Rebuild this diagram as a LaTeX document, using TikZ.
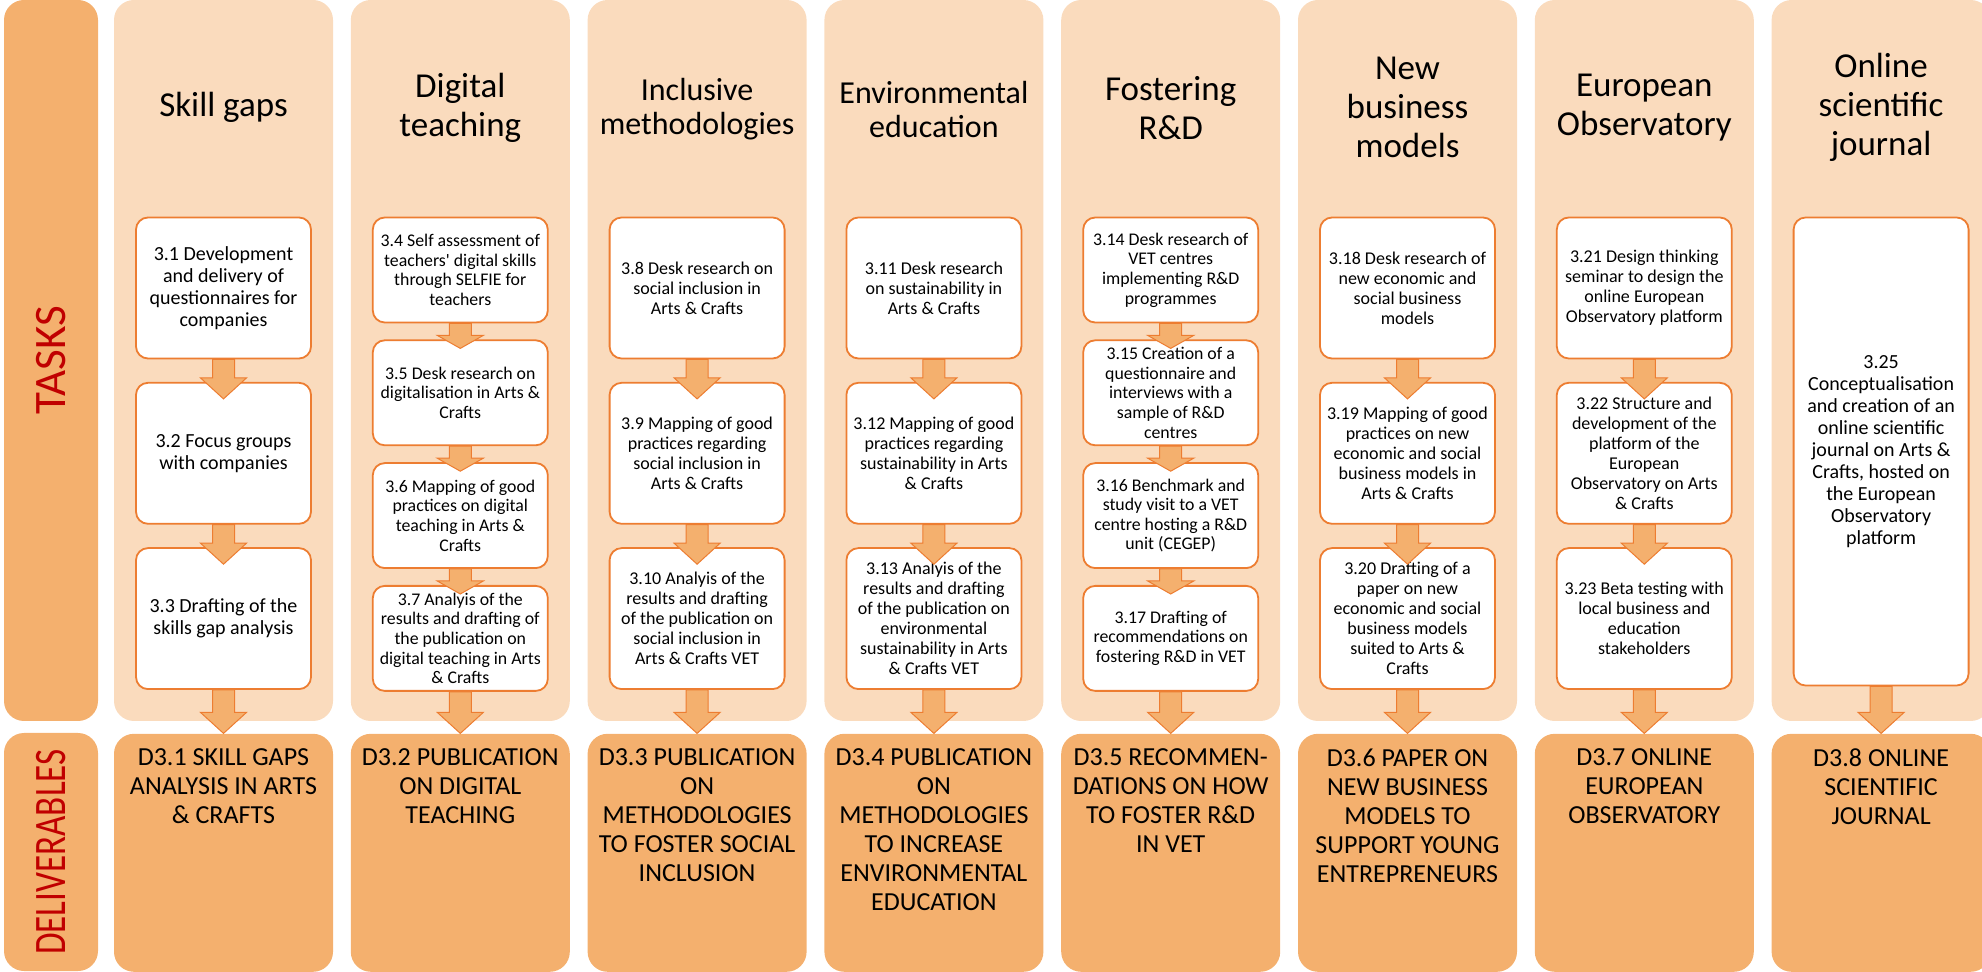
\documentclass[tikz,border=0pt]{standalone}
\usepackage{fontspec}
\setmainfont{Carlito}
\usepackage{graphicx}
\usepackage{tikz}
\usetikzlibrary{positioning,calc}

\definecolor{lanefill}{HTML}{FADBBD}
\definecolor{delivfill}{HTML}{F4B06E}
\definecolor{boxline}{HTML}{ED7D31}
\definecolor{barred}{HTML}{C00000}

% block arrow from one box to the next: from, to, overlap (px), head length
\newcommand{\flowarrow}[4]{%
  \draw[blockflow] let \p1=(#1.south), \p2=($(#2.north)+(0,#3)$) in
    (\x1-5.5pt,\y1) -- (\x1-5.5pt,\y2+#4) -- (\x1-11.5pt,\y2+#4) -- (\x1,\y2)
    -- (\x1+11.5pt,\y2+#4) -- (\x1+5.5pt,\y2+#4) -- (\x1+5.5pt,\y1) -- cycle;}
\newcommand{\delivtext}[1]{\parbox[t][104pt][t]{108pt}{\centering #1}}

\begin{document}
\begin{tikzpicture}[
    x=0.5pt, y=-0.5pt,
    lane/.style={rectangle, rounded corners=10pt, fill=lanefill, minimum width=109.5pt, minimum height=360.5pt, inner sep=0pt},
    sidebar/.style={rectangle, rounded corners=10pt, fill=delivfill, minimum height=47pt, inner sep=0pt, rotate=90, text=barred, font=\fontsize{22.5}{22.5}\selectfont},
    lanehead/.style={align=center, font=\fontsize{17.5}{19.5}\selectfont},
    task/.style={rectangle, draw=boxline, line width=0.9pt, fill=white, rounded corners=6pt, minimum width=87.5pt, align=center, inner sep=1pt, font=\fontsize{9}{10}\selectfont},
    taskbig/.style={task, minimum height=70.5pt},
    tasksmall/.style={task, minimum height=52.5pt},
    bigtext/.style={font=\fontsize{10}{11}\selectfont},
    smalltext/.style={font=\fontsize{8.9}{9.8}\selectfont},
    deliv/.style={rectangle, rounded corners=10pt, fill=delivfill, minimum width=109.5pt, minimum height=119pt, inner sep=0pt, font=\fontsize{13}{14.5}\selectfont},
    blockflow/.style={draw=boxline, fill=delivfill, line width=0.5pt}
]
    \useasboundingbox (0,0) rectangle (1982,972);

    % side labels
    \node[sidebar, minimum width=360.5pt] (taskbar) at (51,360.5) {TASKS};
    \node[sidebar, minimum width=119pt] (delivbar) at (51,852) {\scalebox{0.78}[1]{DELIVERABLES}};

    % lanes
    \node[lane] (lane1) at (223.5,360.5) {};
    \node[lane, right=8.5pt of lane1] (lane2) {};
    \node[lane, right=8.5pt of lane2] (lane3) {};
    \node[lane, right=8.5pt of lane3] (lane4) {};
    \node[lane, right=8.5pt of lane4] (lane5) {};
    \node[lane, right=8.5pt of lane5] (lane6) {};
    \node[lane, right=8.5pt of lane6] (lane7) {};
    \node[lane, right=8.5pt of lane7] (lane8) {};

    \node[lanehead] (head1) at ($(lane1.north)+(0,108)$) {Skill gaps};
    \node[lanehead] (head2) at ($(lane2.north)+(0,108)$) {Digital\\teaching};
    \node[lanehead, font=\fontsize{16}{17}\selectfont] (head3) at ($(lane3.north)+(0,110)$) {Inclusive\\methodologies};
    \node[lanehead, font=\fontsize{16}{17}\selectfont] (head4) at ($(lane4.north)+(0,110)$) {Environmental\\education};
    \node[lanehead] (head5) at ($(lane5.north)+(0,108)$) {Fostering\\R\&D};
    \node[lanehead] (head6) at ($(lane6.north)+(0,108)$) {New\\business\\models};
    \node[lanehead] (head7) at ($(lane7.north)+(0,108)$) {European\\Observatory};
    \node[lanehead] (head8) at ($(lane8.north)+(0,108)$) {Online\\scientific\\journal};

    % Skill gaps
    \node[taskbig, bigtext, below=108.5pt of lane1.north] (t31) {3.1 Development\\and delivery of\\questionnaires for\\companies};
    \node[taskbig, bigtext, below=11.25pt of t31] (t32) {3.2 Focus groups\\with companies};
    \node[taskbig, bigtext, below=11.25pt of t32] (t33) {3.3 Drafting of the\\skills gap analysis};
    \node[deliv, below=6pt of lane1] (d31) {\delivtext{D3.1 SKILL GAPS\\ANALYSIS IN ARTS\\\& CRAFTS}};

    % Digital teaching
    \node[tasksmall, smalltext, below=108.5pt of lane2.north] (t34) {3.4 Self assessment of\\teachers\textquotesingle\ digital skills\\through SELFIE for\\teachers};
    \node[tasksmall, smalltext, below=8pt of t34] (t35) {3.5 Desk research on\\digitalisation in Arts \&\\Crafts};
    \node[tasksmall, smalltext, below=8pt of t35] (t36) {3.6 Mapping of good\\practices on digital\\teaching in Arts \&\\Crafts};
    \node[tasksmall, smalltext, below=8pt of t36] (t37) {3.7 Analyis of the\\results and drafting of\\the publication on\\digital teaching in Arts\\\& Crafts};
    \node[deliv, below=6pt of lane2] (d32) {\delivtext{D3.2 PUBLICATION\\ON DIGITAL\\TEACHING}};

    % Inclusive methodologies
    \node[taskbig, below=108.5pt of lane3.north] (t38) {3.8 Desk research on\\social inclusion in\\Arts \& Crafts};
    \node[taskbig, below=11.25pt of t38] (t39) {3.9 Mapping of good\\practices regarding\\social inclusion in\\Arts \& Crafts};
    \node[taskbig, below=11.25pt of t39] (t310) {3.10 Analyis of the\\results and drafting\\of the publication on\\social inclusion in\\Arts \& Crafts VET};
    \node[deliv, below=6pt of lane3] (d33) {\delivtext{D3.3 PUBLICATION\\ON\\METHODOLOGIES\\TO FOSTER SOCIAL\\INCLUSION}};

    % Environmental education
    \node[taskbig, below=108.5pt of lane4.north] (t311) {3.11 Desk research\\on sustainability in\\Arts \& Crafts};
    \node[taskbig, below=11.25pt of t311] (t312) {3.12 Mapping of good\\practices regarding\\sustainability in Arts\\\& Crafts};
    \node[taskbig, below=11.25pt of t312] (t313) {3.13 Analyis of the\\results and drafting\\of the publication on\\environmental\\sustainability in Arts\\\& Crafts VET};
    \node[deliv, below=6pt of lane4] (d34) {\delivtext{D3.4 PUBLICATION\\ON\\METHODOLOGIES\\TO INCREASE\\ENVIRONMENTAL\\EDUCATION}};

    % Fostering R&D
    \node[tasksmall, smalltext, below=108.5pt of lane5.north] (t314) {3.14 Desk research of\\VET centres\\implementing R\&D\\programmes};
    \node[tasksmall, smalltext, below=8pt of t314] (t315) {3.15 Creation of a\\questionnaire and\\interviews with a\\sample of R\&D\\centres};
    \node[tasksmall, smalltext, below=8pt of t315] (t316) {3.16 Benchmark and\\study visit to a VET\\centre hosting a R\&D\\unit (CEGEP)};
    \node[tasksmall, smalltext, below=8pt of t316] (t317) {3.17 Drafting of\\recommendations on\\fostering R\&D in VET};
    \node[deliv, below=6pt of lane5] (d35) {\delivtext{D3.5 RECOMMEN-\\DATIONS ON HOW\\TO FOSTER R\&D\\IN VET}};

    % New business models
    \node[taskbig, below=108.5pt of lane6.north] (t318) {3.18 Desk research of\\new economic and\\social business\\models};
    \node[taskbig, below=11.25pt of t318] (t319) {3.19 Mapping of good\\practices on new\\economic and social\\business models in\\Arts \& Crafts};
    \node[taskbig, below=11.25pt of t319] (t320) {3.20 Drafting of a\\paper on new\\economic and social\\business models\\suited to Arts \&\\Crafts};
    \node[deliv, below=6pt of lane6] (d36) {\delivtext{D3.6 PAPER ON\\NEW BUSINESS\\MODELS TO\\SUPPORT YOUNG\\ENTREPRENEURS}};

    % European Observatory
    \node[taskbig, below=108.5pt of lane7.north] (t321) {3.21 Design thinking\\seminar to design the\\online European\\Observatory platform};
    \node[taskbig, below=11.25pt of t321] (t322) {3.22 Structure and\\development of the\\platform of the\\European\\Observatory on Arts\\\& Crafts};
    \node[taskbig, below=11.25pt of t322] (t323) {3.23 Beta testing with\\local business and\\education\\stakeholders};
    \node[deliv, below=6pt of lane7] (d37) {\delivtext{D3.7 ONLINE\\EUROPEAN\\OBSERVATORY}};

    % Online scientific journal
    \node[task, bigtext, minimum height=234pt, below=108.5pt of lane8.north] (t325) {3.25\\Conceptualisation\\and creation of an\\online scientific\\journal on Arts \&\\Crafts, hosted on\\the European\\Observatory\\platform};
    \node[deliv, below=6pt of lane8] (d38) {\delivtext{D3.8 ONLINE\\SCIENTIFIC\\JOURNAL}};

    % arrows
    \flowarrow{t31}{t32}{17}{10.5pt}
    \flowarrow{t32}{t33}{17}{10.5pt}
    \flowarrow{t33}{d31}{0}{10.5pt}
    \flowarrow{t34}{t35}{9}{6.5pt}
    \flowarrow{t35}{t36}{9}{6.5pt}
    \flowarrow{t36}{t37}{9}{6.5pt}
    \flowarrow{t37}{d32}{0}{10.5pt}
    \flowarrow{t38}{t39}{17}{10.5pt}
    \flowarrow{t39}{t310}{17}{10.5pt}
    \flowarrow{t310}{d33}{0}{10.5pt}
    \flowarrow{t311}{t312}{17}{10.5pt}
    \flowarrow{t312}{t313}{17}{10.5pt}
    \flowarrow{t313}{d34}{0}{10.5pt}
    \flowarrow{t314}{t315}{9}{6.5pt}
    \flowarrow{t315}{t316}{9}{6.5pt}
    \flowarrow{t316}{t317}{9}{6.5pt}
    \flowarrow{t317}{d35}{0}{10.5pt}
    \flowarrow{t318}{t319}{17}{10.5pt}
    \flowarrow{t319}{t320}{17}{10.5pt}
    \flowarrow{t320}{d36}{0}{10.5pt}
    \flowarrow{t321}{t322}{17}{10.5pt}
    \flowarrow{t322}{t323}{17}{10.5pt}
    \flowarrow{t323}{d37}{0}{10.5pt}
    \flowarrow{t325}{d38}{0}{10.5pt}
\end{tikzpicture}
\end{document}
